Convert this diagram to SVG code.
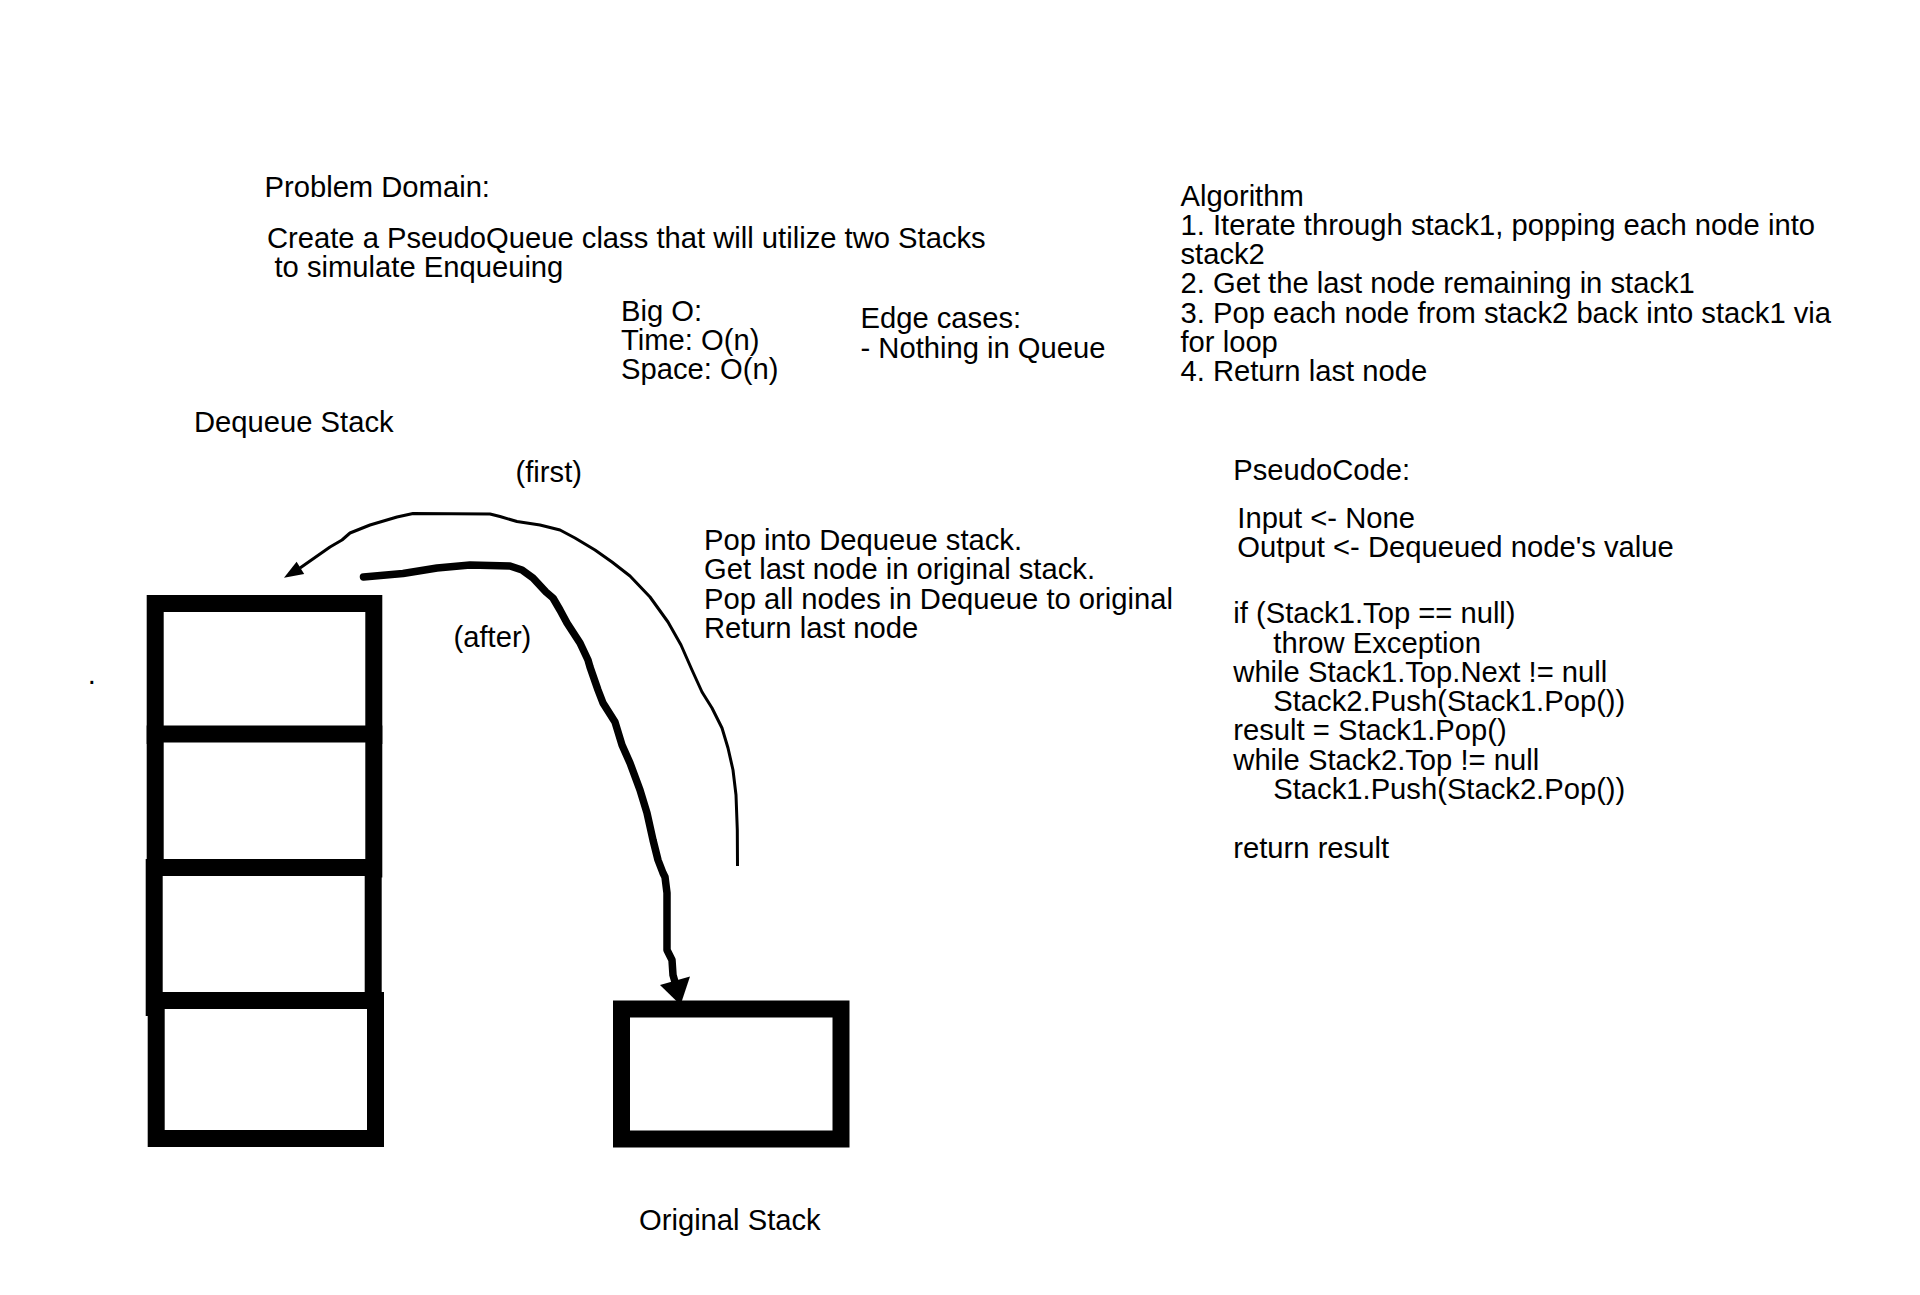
<svg xmlns="http://www.w3.org/2000/svg" width="1920" height="1295" viewBox="0 0 1920 1295">
<style>
text{font-family:"Liberation Sans",Arial,sans-serif;font-size:29.2px;fill:#000}
.box{fill:#fff;stroke:#000;stroke-width:17}
.thin{fill:none;stroke:#000;stroke-width:3;stroke-linejoin:round;stroke-linecap:butt}
.thick{fill:none;stroke:#000;stroke-width:7.5;stroke-linejoin:round;stroke-linecap:round}
</style>
<rect width="1920" height="1295" fill="#fff"/>
<g id="problem-domain">
<text x="264.5" y="196.5">Problem Domain:</text>
<text x="267" y="247.5">Create a PseudoQueue class that will utilize two Stacks</text>
<text x="274.5" y="276.8">to simulate Enqueuing</text>
</g>
<g id="big-o">
<text x="621" y="320.5">Big O:</text>
<text x="621" y="349.8">Time: O(n)</text>
<text x="621" y="379.1">Space: O(n)</text>
</g>
<g id="edge-cases">
<text x="860.5" y="328.3">Edge cases:</text>
<text x="860.5" y="357.6">- Nothing in Queue</text>
</g>
<g id="algorithm">
<text x="1180.5" y="205.5">Algorithm</text>
<text x="1180.5" y="234.8">1. Iterate through stack1, popping each node into</text>
<text x="1180.5" y="264.1">stack2</text>
<text x="1180.5" y="293.4">2. Get the last node remaining in stack1</text>
<text x="1180.5" y="322.7">3. Pop each node from stack2 back into stack1 via</text>
<text x="1180.5" y="352">for loop</text>
<text x="1180.5" y="381.3">4. Return last node</text>
</g>
<g id="pseudocode">
<text x="1233.3" y="480">PseudoCode:</text>
<text x="1237.3" y="527.5">Input &lt;- None</text>
<text x="1237.3" y="556.8">Output &lt;- Dequeued node's value</text>
<text x="1233.3" y="623.2">if (Stack1.Top == null)</text>
<text x="1273.3" y="652.5">throw Exception</text>
<text x="1233.3" y="681.8">while Stack1.Top.Next != null</text>
<text x="1273.3" y="711.1">Stack2.Push(Stack1.Pop())</text>
<text x="1233.3" y="740.4">result = Stack1.Pop()</text>
<text x="1233.3" y="769.7">while Stack2.Top != null</text>
<text x="1273.3" y="799">Stack1.Push(Stack2.Pop())</text>
<text x="1233.3" y="857.6">return result</text>
</g>
<g id="steps-note">
<text x="704" y="550">Pop into Dequeue stack.</text>
<text x="704" y="579.3">Get last node in original stack.</text>
<text x="704" y="608.6">Pop all nodes in Dequeue to original</text>
<text x="704" y="637.9">Return last node</text>
</g>
<g id="dot-mark"><text x="87.7" y="683.5">.</text></g>
<g id="dequeue-stack">
<text x="194" y="432.2">Dequeue Stack</text>
<rect id="dq-box-1" class="box" x="155.2" y="603.5" width="218.6" height="132"/>
<rect id="dq-box-2" class="box" x="155.2" y="734" width="218.6" height="135"/>
<rect id="dq-box-3" class="box" x="154.2" y="867.5" width="219" height="140"/>
<rect id="dq-box-4" class="box" x="156.2" y="1000.5" width="219.3" height="138"/>
</g>
<g id="original-stack">
<rect class="box" x="621.5" y="1009" width="219.5" height="130"/>
<text x="639" y="1230">Original Stack</text>
</g>
<g id="connectors">
<g id="first-arrow">
<polyline class="thin" points="737.5,866 737.3,830 736,795 733,770 728,748 722,728 712,708 702,692 692,670 681,645 668,622 650,597 630,576 612,562 595,550 575,538 560,530 540,525 517,521.5 500,516.5 490,514 413,513.5 397,517 370,525 350,533 342,540 330,547 300,568"/>
<polygon points="284,577.8 296.6,561.8 304.2,574" fill="#000"/>
<text x="515.5" y="482">(first)</text>
</g>
<g id="after-arrow">
<polyline class="thick" points="363.5,577 403,573.5 437,568 470,565 510,566 522,570 533,578 546,592 553,598 560,610 567,623 580,643 588,660 590,667 598,690 603,703 615,722 622,745 630,763 640,790 647,813 653,840 658,860 663,873 665,877 667,893 667,950 672,960 673,975 675,982"/>
<polygon points="660,985 690,976.5 680.5,1005" fill="#000"/>
<text x="453.5" y="646.5">(after)</text>
</g>
</g>
</svg>
